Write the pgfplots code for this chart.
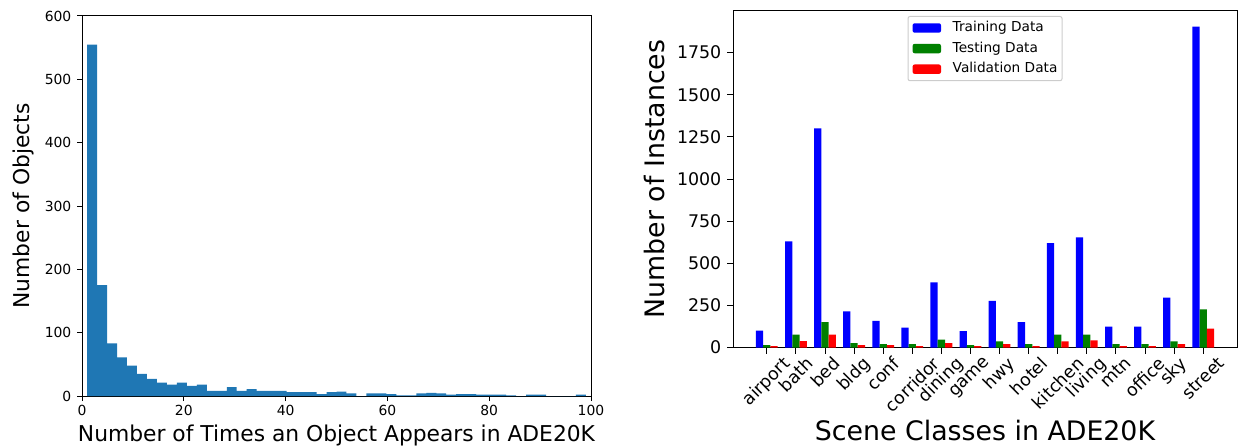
\documentclass[border=0pt]{standalone}
\usepackage{fontspec}
\setmainfont{DejaVu Sans}
\usepackage{graphicx}
\usepackage{pgfplots}
\pgfplotsset{compat=1.18}
\definecolor{histblue}{HTML}{1F77B4}
\definecolor{mplgreen}{HTML}{008000}
\begin{document}
\begin{tikzpicture}
\path[use as bounding box] (0,0) rectangle (1238pt,445pt);
\begin{axis}[
  at={(82pt,49pt)}, anchor=south west,
  scale only axis, width=509pt, height=380pt,
  xmin=0, xmax=100, ymin=0, ymax=600,
  xtick={0,20,...,100}, ytick={0,100,...,600},
  tick align=outside, major tick length=5pt, tick pos=left,
  tick style={black, line width=1pt},
  axis line style={black, line width=1pt},
  /pgf/number format/assume math mode=true,
  ticklabel style={font=\fontsize{13.9}{16}\selectfont, inner sep=0pt},
  yticklabel style={xshift=-5.5pt},
  xticklabel style={yshift=-4pt},
  xlabel={Number of Times an Object Appears in ADE20K},
  ylabel={Number of Objects},
  label style={font=\fontsize{21.8}{26}\selectfont, inner sep=0pt},
  xlabel style={at={(axis description cs:0.5,-0.121)}, anchor=base},
  ylabel style={at={(axis description cs:-0.1022,0.5)}, anchor=base, rotate=0},
]
\addplot[ybar interval, fill=histblue, draw=none] coordinates {
(1,555) (2.96,175) (4.92,83) (6.88,61) (8.84,48) (10.8,35) (12.76,27) (14.72,21)
(16.68,18) (18.64,21) (20.6,16) (22.56,18) (24.52,8) (26.48,8) (28.44,14) (30.4,8)
(32.36,11) (34.32,8) (36.28,8) (38.24,8) (40.2,6) (42.16,6) (44.12,6) (46.08,3)
(48.04,6) (50,7) (51.96,4) (53.92,0) (55.88,4) (57.84,4) (59.8,3) (61.76,1)
(63.72,1) (65.68,4) (67.64,5) (69.6,4) (71.56,2) (73.52,3) (75.48,3) (77.44,2)
(79.4,2) (81.36,2) (83.32,1) (85.28,0) (87.24,2) (89.2,2) (91.16,0) (93.12,0)
(95.08,0) (97.04,2) (99,2)};
\end{axis}
\begin{axis}[
  at={(733pt,97.5pt)}, anchor=south west,
  scale only axis, width=504pt, height=337pt,
  xmin=-1.1625, xmax=16.1625, ymin=0, ymax=2000,
  xtick={0,...,15}, ytick={0,250,...,1750},
  xticklabels={\rotatebox{45}{airport},\rotatebox{45}{bath},\rotatebox{45}{bed},\rotatebox{45}{bldg},\rotatebox{45}{conf},\rotatebox{45}{corridor},\rotatebox{45}{dining},\rotatebox{45}{game},\rotatebox{45}{hwy},\rotatebox{45}{hotel},\rotatebox{45}{kitchen},\rotatebox{45}{living},\rotatebox{45}{mtn},\rotatebox{45}{office},\rotatebox{45}{sky},\rotatebox{45}{street}},
  ybar=0pt, bar width=0.25,
  tick align=outside, major tick length=6pt, tick pos=left,
  tick style={black, line width=1pt},
  axis line style={black, line width=1pt},
  /pgf/number format/assume math mode=true,
  /pgf/number format/1000 sep={},
  ticklabel style={font=\fontsize{17.4}{20}\selectfont, inner sep=0pt},
  yticklabel style={xshift=-5.5pt},
  xticklabel style={anchor=north, yshift=-2pt},
  xlabel={Scene Classes in ADE20K},
  ylabel={Number of Instances},
  label style={font=\fontsize{26.8}{31}\selectfont, inner sep=0pt},
  xlabel style={at={(axis description cs:0.5,-0.2745)}, anchor=base},
  ylabel style={at={(axis description cs:-0.136,0.5)}, anchor=base, rotate=0},
  legend cell align=left,
  legend image code/.code={\fill[#1] (0pt,-4.7pt) rectangle (28.4pt,4.7pt);},
  legend style={at={(axis description cs:0.5,0.9837)}, anchor=north,
    draw=black!20, line width=1pt, rounded corners=2pt, fill=white,
    font=\fontsize{13.7}{16}\selectfont,
    inner xsep=4.6pt, inner ysep=5pt, row sep=7.6pt,
    nodes={inner sep=0pt, text height=10pt, text depth=3pt},
    /tikz/every odd column/.append style={column sep=11.7pt}},
]
\addplot[fill=blue, draw=none, bar shift=-0.25] coordinates {
(0,100) (1,630) (2,1300) (3,215) (4,158) (5,118) (6,387) (7,97)
(8,277) (9,150) (10,619) (11,654) (12,124) (13,124) (14,296) (15,1905)};
\addplot[fill=mplgreen, draw=none, bar shift=0] coordinates {
(0,14) (1,77) (2,151) (3,26) (4,20) (5,20) (6,47) (7,14)
(8,36) (9,20) (10,77) (11,77) (12,20) (13,20) (14,36) (15,226)};
\addplot[fill=red, draw=none, bar shift=0.25] coordinates {
(0,8) (1,38) (2,77) (3,14) (4,14) (5,8) (6,26) (7,8)
(8,20) (9,8) (10,36) (11,43) (12,8) (13,8) (14,20) (15,112)};
\legend{Training Data, Testing Data, Validation Data}
\end{axis}
\end{tikzpicture}
\end{document}
